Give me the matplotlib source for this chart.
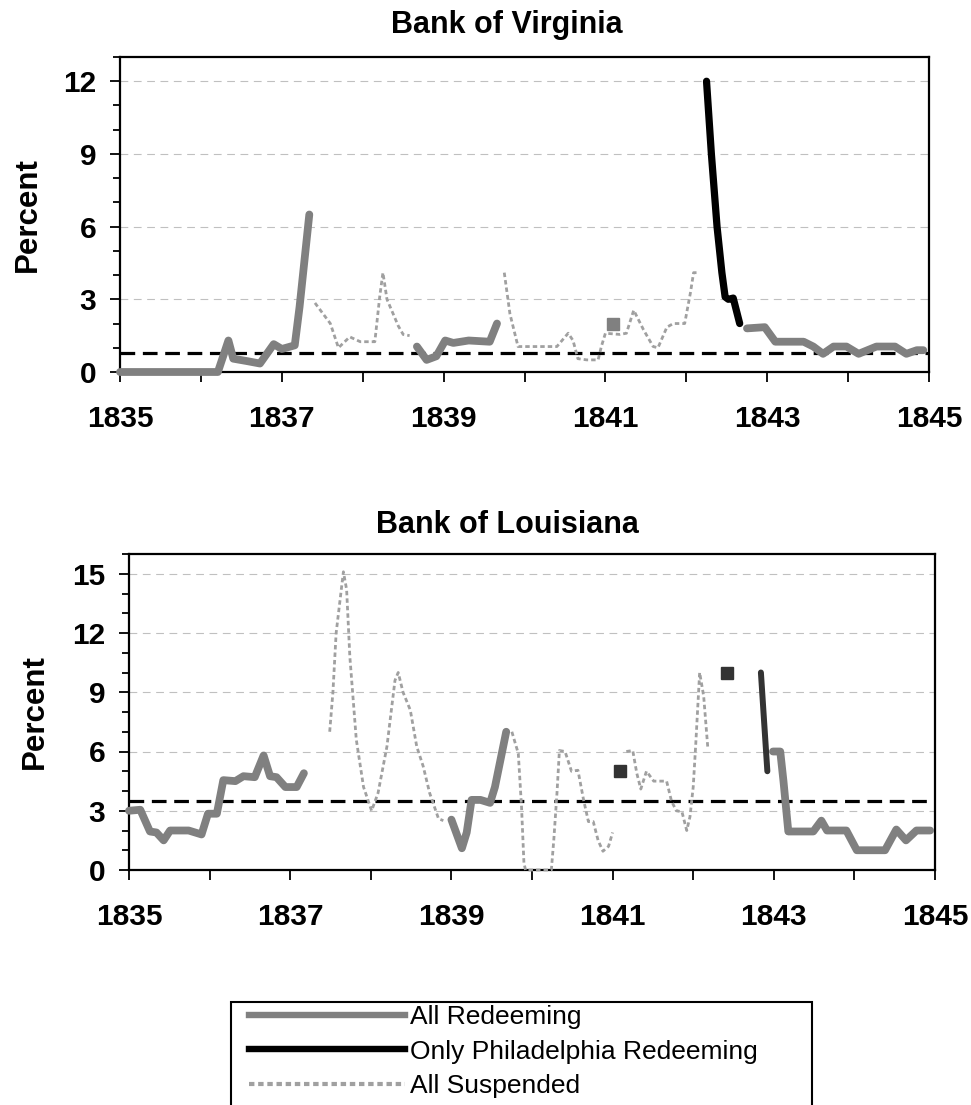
import matplotlib
matplotlib.use("Agg")
import matplotlib.pyplot as plt
from matplotlib.lines import Line2D
from matplotlib.patches import Rectangle

plt.rcParams['font.family'] = ['Liberation Sans', 'DejaVu Sans']

# ---- Bank of Virginia ----
va_red1_x = [1835.0, 1836.21, 1836.34, 1836.40, 1836.57, 1836.73, 1836.90, 1837.0, 1837.16, 1837.22, 1837.34]
va_red1_y = [0, 0, 1.3, 0.55, 0.45, 0.35, 1.15, 0.95, 1.1, 2.7, 6.5]
va_sus1_x = [1837.41, 1837.60, 1837.70, 1837.84, 1837.97, 1838.15, 1838.21, 1838.25, 1838.30, 1838.44, 1838.50, 1838.58]
va_sus1_y = [2.85, 2.0, 1.0, 1.45, 1.25, 1.25, 3.1, 4.1, 3.0, 1.9, 1.55, 1.5]
va_red2_x = [1838.67, 1838.79, 1838.91, 1839.02, 1839.12, 1839.31, 1839.57, 1839.66]
va_red2_y = [1.05, 0.5, 0.65, 1.3, 1.2, 1.3, 1.25, 2.0]
va_sus2_x = [1839.75, 1839.82, 1839.92, 1840.19, 1840.40, 1840.54, 1840.60, 1840.66, 1840.77, 1840.91,
             1840.95, 1841.0, 1841.18, 1841.26, 1841.35, 1841.47, 1841.59, 1841.65, 1841.76, 1841.84,
             1841.98, 1842.05, 1842.09, 1842.15]
va_sus2_y = [4.1, 2.4, 1.05, 1.05, 1.05, 1.6, 1.3, 0.55, 0.5, 0.5,
             1.05, 1.6, 1.55, 1.6, 2.55, 1.75, 1.05, 1.0, 1.85, 2.0,
             2.0, 3.25, 4.1, 4.1]
va_phil_x = [1842.25, 1842.31, 1842.38, 1842.44, 1842.48, 1842.52, 1842.58, 1842.66]
va_phil_y = [12.0, 9.0, 6.0, 4.1, 3.1, 3.0, 3.05, 2.0]
va_red3_x = [1842.75, 1842.97, 1843.10, 1843.45, 1843.57, 1843.69, 1843.82, 1843.98, 1844.13, 1844.35,
             1844.58, 1844.72, 1844.85, 1844.93]
va_red3_y = [1.8, 1.85, 1.25, 1.25, 1.05, 0.75, 1.05, 1.05, 0.75, 1.05,
             1.05, 0.75, 0.9, 0.9]
va_point_x = [1841.09]
va_point_y = [2.0]
va_avg = 0.8

# ---- Bank of Louisiana ----
la_red1_x = [1835.0, 1835.14, 1835.26, 1835.34, 1835.43, 1835.51, 1835.74, 1835.90, 1835.98, 1836.09,
             1836.17, 1836.32, 1836.42, 1836.56, 1836.67, 1836.75, 1836.83, 1836.94, 1837.08, 1837.17]
la_red1_y = [3.0, 3.05, 1.95, 1.9, 1.5, 2.0, 2.0, 1.8, 2.85, 2.85,
             4.55, 4.5, 4.75, 4.7, 5.8, 4.75, 4.7, 4.2, 4.2, 4.9]
la_sus1_x = [1837.49, 1837.53, 1837.57, 1837.66, 1837.70, 1837.74, 1837.82, 1837.91, 1838.01, 1838.09,
             1838.20, 1838.30, 1838.34, 1838.40, 1838.49, 1838.57, 1838.65, 1838.73, 1838.84, 1838.90]
la_sus1_y = [7.0, 9.0, 12.0, 15.1, 14.2, 10.8, 6.6, 4.2, 3.0, 3.9,
             6.25, 9.6, 10.0, 9.0, 8.1, 6.25, 5.25, 3.9, 2.6, 2.5]
la_red2_x = [1839.00, 1839.13, 1839.19, 1839.25, 1839.36, 1839.48, 1839.54, 1839.68]
la_red2_y = [2.55, 1.1, 1.9, 3.55, 3.55, 3.4, 4.2, 7.0]
la_sus2_x = [1839.75, 1839.83, 1839.87, 1839.90, 1839.92, 1840.24, 1840.27, 1840.31, 1840.34, 1840.41,
             1840.49, 1840.57, 1840.64, 1840.70, 1840.76, 1840.82, 1840.88, 1840.95, 1841.0]
la_sus2_y = [7.0, 5.9, 3.2, 0.35, 0.0, 0.0, 1.5, 3.9, 6.05, 6.0,
             5.0, 5.05, 3.55, 2.45, 2.45, 1.5, 0.95, 1.2, 1.9]
la_sus3_x = [1841.17, 1841.25, 1841.30, 1841.35, 1841.42, 1841.51, 1841.67, 1841.73, 1841.79, 1841.86,
             1841.92, 1841.96, 1842.00, 1842.03, 1842.08, 1842.13, 1842.18]
la_sus3_y = [6.0, 6.05, 4.9, 4.1, 5.0, 4.5, 4.5, 3.5, 3.0, 2.95,
             2.0, 2.7, 4.2, 6.25, 10.0, 8.8, 6.25]
la_phil_x = [1842.84, 1842.92]
la_phil_y = [10.0, 5.0]
la_red3_x = [1842.99, 1843.08, 1843.12, 1843.18, 1843.49, 1843.59, 1843.66, 1843.90, 1844.03, 1844.38,
             1844.52, 1844.64, 1844.77, 1844.94]
la_red3_y = [6.0, 6.0, 4.5, 1.95, 1.95, 2.5, 2.0, 2.0, 1.0, 1.0,
             2.05, 1.5, 2.0, 2.0]
la_point_x = [1841.09, 1842.42]
la_point_y = [5.0, 10.0]
la_avg = 3.5

years = list(range(1835, 1846))
year_labels = [str(y) if (y - 1835) % 2 == 0 else "" for y in years]
legend_labels = ["All Redeeming", "Only Philadelphia Redeeming", "All Suspended"]

RED = dict(color="#808080", lw=5.6, solid_capstyle="round", solid_joinstyle="round", clip_on=False, zorder=4)
SUS = dict(color="#a0a0a0", lw=2.0, dashes=(1.6, 1.1), clip_on=False, zorder=3)


def style_axes(ax, ymax, yticks, title, title_y):
    ax.set_xlim(1835, 1845)
    ax.set_ylim(0, ymax)
    ax.set_xticks(years)
    ax.set_xticklabels(year_labels, fontweight="bold", fontsize=21.5)
    ax.set_yticks(yticks)
    ax.set_yticklabels([str(t) for t in yticks], fontweight="bold", fontsize=21.5)
    ax.set_yticks(range(0, ymax + 1), minor=True)
    ax.tick_params(axis="x", direction="out", length=7, width=1.3, pad=17)
    ax.tick_params(axis="y", which="major", direction="out", length=7, width=1.3, pad=10)
    ax.tick_params(axis="y", which="minor", direction="out", length=5, width=1.3)
    for s in ax.spines.values():
        s.set_linewidth(1.6)
    ax.grid(axis="y", which="major", color="#c0c0c0", lw=0.8, dashes=(7, 5))
    ax.set_axisbelow(True)
    ax.set_ylabel("Percent", fontweight="bold", fontsize=22.5)
    fig.text(507 / 971, title_y, title, ha="center", va="baseline", fontweight="bold", fontsize=22)


fig = plt.figure(figsize=(9.71, 11.05), dpi=100)

# top chart
ax1 = fig.add_axes([120 / 971, 1 - 372 / 1105, 809 / 971, 315 / 1105])
ax1.axhline(va_avg, color="black", lw=2.3, dashes=(4.6, 2.4), zorder=2)
ax1.plot(va_red1_x, va_red1_y, **RED)
ax1.plot(va_red2_x, va_red2_y, **RED)
ax1.plot(va_red3_x, va_red3_y, **RED)
ax1.plot(va_sus1_x, va_sus1_y, **SUS)
ax1.plot(va_sus2_x, va_sus2_y, **SUS)
ax1.plot(va_phil_x, va_phil_y, color="black", lw=5.2, solid_capstyle="round", solid_joinstyle="round", zorder=5)
ax1.plot(va_point_x, va_point_y, "s", color="#808080", ms=9, zorder=6)
style_axes(ax1, 13, [0, 3, 6, 9, 12], "Bank of Virginia", 1 - 33 / 1105)
ax1.yaxis.set_label_coords(-0.095, 0.5)

# bottom chart
ax2 = fig.add_axes([129 / 971, 1 - 870 / 1105, 806 / 971, 316 / 1105])
ax2.axhline(la_avg, color="black", lw=2.3, dashes=(4.6, 2.4), zorder=2)
ax2.plot(la_red1_x, la_red1_y, **RED)
ax2.plot(la_red2_x, la_red2_y, **RED)
ax2.plot(la_red3_x, la_red3_y, **RED)
ax2.plot(la_sus1_x, la_sus1_y, **SUS)
ax2.plot(la_sus2_x, la_sus2_y, **SUS)
ax2.plot(la_sus3_x, la_sus3_y, **SUS)
ax2.plot(la_phil_x, la_phil_y, color="#333333", lw=4.3, solid_capstyle="round", zorder=5)
ax2.plot(la_point_x, la_point_y, "s", color="#333333", ms=9, zorder=6)
style_axes(ax2, 16, [0, 3, 6, 9, 12, 15], "Bank of Louisiana", 1 - 533 / 1105)
ax2.yaxis.set_label_coords(-0.098, 0.5)

# legend
fig.patches.append(Rectangle((231 / 971, -0.01), (812 - 231) / 971, 0.01 + (1105 - 1002) / 1105,
                             transform=fig.transFigure, fill=False, edgecolor="black", lw=1.5))
handles = [
    Line2D([], [], color="#808080", lw=4.6),
    Line2D([], [], color="black", lw=4.6),
    Line2D([], [], color="#a0a0a0", lw=3.0, dashes=(1.3, 0.9)),
]
fig.legend(handles, legend_labels, loc="upper left", bbox_to_anchor=(249 / 971, 1 - 1005 / 1105),
           frameon=False, fontsize=19, handlelength=5.9, handletextpad=0.2, labelspacing=0.4,
           borderpad=0, borderaxespad=0)

fig.savefig("out.png", dpi=100)
plt.close(fig)
